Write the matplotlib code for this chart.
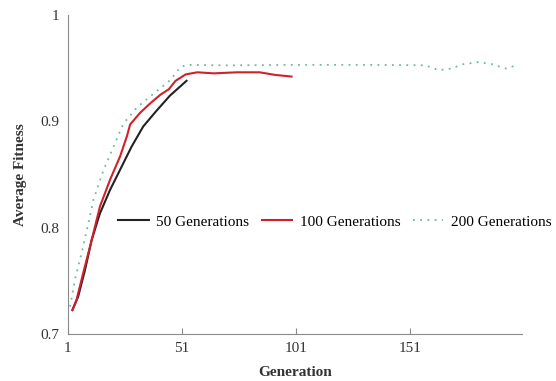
import matplotlib.pyplot as plt

# values
gen_50 = [3, 5.5, 8.5, 11.4, 15, 19.4, 23.8, 28.9, 34, 39.9, 45.7, 53]
fit_50 = [0.7225, 0.735, 0.760, 0.788, 0.813, 0.835, 0.854, 0.876, 0.895, 0.910, 0.924, 0.938]

gen_100 = [3, 4.8, 7.7, 10.7, 15.1, 19.5, 23.9, 26.9, 28.3, 32.7, 37.2, 41.6, 45.2, 48.2,
           52.6, 57.7, 65, 75, 85, 92, 99]
fit_100 = [0.7225, 0.732, 0.757, 0.782, 0.820, 0.845, 0.867, 0.886, 0.897, 0.908, 0.917,
           0.925, 0.930, 0.938, 0.944, 0.946, 0.945, 0.946, 0.946, 0.9435, 0.942]

gen_200 = [2, 4.1, 7.7, 12.2, 16.6, 21, 25.4, 31.3, 38.6, 46, 50.4, 53.3, 70, 100, 130,
           157.5, 163.5, 169, 173.8, 181, 187, 193, 197.4]
fit_200 = [0.7257, 0.751, 0.782, 0.826, 0.854, 0.876, 0.898, 0.913, 0.926, 0.939, 0.951,
           0.953, 0.9525, 0.953, 0.953, 0.9526, 0.948, 0.9495, 0.9535, 0.9556, 0.9535,
           0.9495, 0.9526]

plt.rcParams['font.family'] = 'Liberation Serif'

fig = plt.figure(figsize=(5.56, 3.81), dpi=100)
ax = fig.add_axes([0.122, 0.1234, 0.817, 0.8376])

ax.plot(gen_50, fit_50, color='#222222', lw=1.5, label='50 Generations')
ax.plot(gen_100, fit_100, color='#d0202a', lw=1.5, label='100 Generations')
ax.plot(gen_200, fit_200, color='#6fb89c', lw=1.3, linestyle=(0, (1, 3)),
        label='200 Generations')

ax.set_xlim(1, 200)
ax.set_ylim(0.7, 1.0)
ax.set_xticks([1, 51, 101, 151])
ax.set_yticks([0.7, 0.8, 0.9, 1.0])
ax.set_yticklabels(['0.7', '0.8', '0.9', '1'])

for side in ['top', 'right']:
    ax.spines[side].set_visible(False)
for side in ['left', 'bottom']:
    ax.spines[side].set_color('#8a8a8a')
ax.tick_params(axis='x', direction='in', length=4, color='#8a8a8a', labelsize=11, pad=6)
ax.tick_params(axis='y', length=0, labelsize=11, pad=6)
for lab in ax.get_xticklabels() + ax.get_yticklabels():
    lab.set_color('#333333')

ax.set_xlabel('Generation', fontsize=11, fontweight='bold', color='#333333', labelpad=8)
ax.set_ylabel('Average Fitness', fontsize=11, fontweight='bold', color='#333333', labelpad=10)

ax.legend(loc='center', bbox_to_anchor=(0.588, 0.351), ncol=3, frameon=False,
          fontsize=11, handlelength=2, columnspacing=0.8, handletextpad=0.5)

fig.savefig('out.png', dpi=100)
